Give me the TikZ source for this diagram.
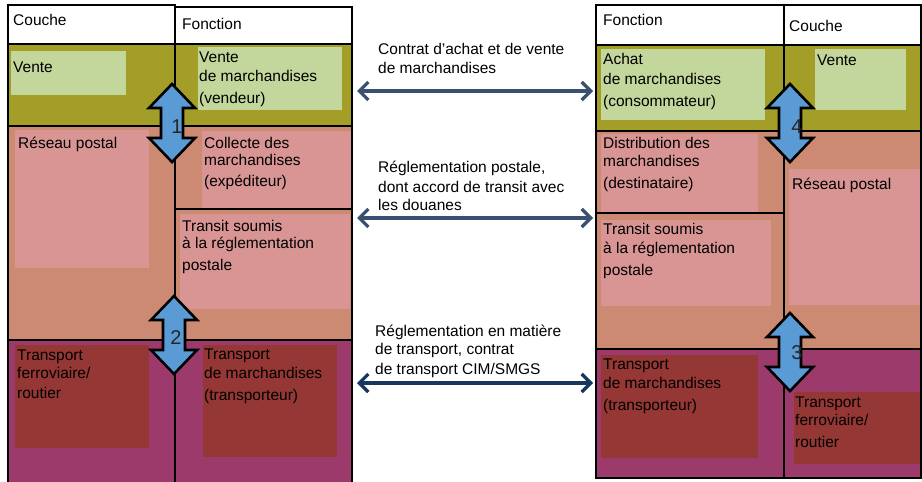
\documentclass[tikz,border=0pt]{standalone}
\usepackage{fontspec}
\setmainfont{Liberation Sans}
\usetikzlibrary{arrows.meta}
\definecolor{cOlive}{HTML}{A39E27}
\definecolor{cLGreen}{HTML}{C3D69B}
\definecolor{cSalmon}{HTML}{CD8A72}
\definecolor{cPink}{HTML}{D99594}
\definecolor{cPurple}{HTML}{9B3A6B}
\definecolor{cDRed}{HTML}{953735}
\definecolor{cBlue}{HTML}{5B9BD5}
\definecolor{cArrA}{HTML}{3B5070}
\definecolor{cArrB}{HTML}{17375E}
\newcommand\cellbox[6]{\node[cellbx, fill=#2, minimum width={(#5)-(#3)}, minimum height={(#6)-(#4)}] (#1) at ({((#3)+(#5))/2},{((#4)+(#6))/2}) {};}
\newcommand\vdarrow[3]{%
  \draw[dblarrow] (#1,{#2}) -- ({#1+23},{#2+24}) -- ({#1+11},{#2+24}) -- ({#1+11},{#3-24}) -- ({#1+23},{#3-24}) -- (#1,{#3}) -- ({#1-23},{#3-24}) -- ({#1-11},{#3-24}) -- ({#1-11},{#2+24}) -- ({#1-23},{#2+24}) -- cycle;}
\begin{document}
\begin{tikzpicture}[x=1pt,y=-1pt,
  cellbx/.style={draw=none, inner sep=0pt, outer sep=0pt},
  txt/.style={anchor=base west, inner sep=0pt, align=left, text=black,
    font=\fontsize{15.5}{20}\selectfont},
  grid/.style={line width=1.6pt, black, line cap=rect},
  dblarrow/.style={fill=cBlue, draw=black, line width=2.6pt, line join=miter},
  numlbl/.style={inner sep=0pt, font=\fontsize{20}{22}\selectfont, text=black!85},
  harrow/.style={line width=3.2pt, {Straight Barb[length=9pt,width=18pt]}-{Straight Barb[length=9pt,width=18pt]}}
]
\useasboundingbox (0,0) rectangle (922,482);
% ---------- left block bands ----------
\cellbox{LHead}{white}{8}{5}{352}{44}
\cellbox{LOlive}{cOlive}{8}{44}{352}{126}
\cellbox{LSalmon}{cSalmon}{8}{126}{352}{340}
\cellbox{LPurple}{cPurple}{8}{340}{352}{484}
% ---------- right block bands ----------
\cellbox{RHead}{white}{596}{5}{921}{45}
\cellbox{ROlive}{cOlive}{596}{45}{921}{131}
\cellbox{RSalmon}{cSalmon}{596}{131}{921}{349}
\cellbox{RPurple}{cPurple}{596}{349}{921}{478}
% ---------- inner boxes left ----------
\cellbox{bVenteL}{cLGreen}{11}{51}{126}{95}
\cellbox{bVendeur}{cLGreen}{198}{47}{342}{110}
\cellbox{bReseauL}{cPink}{15}{130}{149}{268}
\cellbox{bCollecte}{cPink}{202}{131}{351}{208}
\cellbox{bTransitL}{cPink}{180}{214}{350}{309}
\cellbox{bFerroL}{cDRed}{15}{345}{149}{448}
\cellbox{bTranspL}{cDRed}{203}{345}{337}{457}
% ---------- inner boxes right ----------
\cellbox{bAchat}{cLGreen}{601}{49}{765}{120}
\cellbox{bVenteR}{cLGreen}{815}{49}{906}{110}
\cellbox{bDistrib}{cPink}{601}{134}{758}{212}
\cellbox{bTransitR}{cPink}{601}{220}{771}{306}
\cellbox{bReseauR}{cPink}{789}{169}{921}{305}
\cellbox{bTranspR}{cDRed}{601}{355}{758}{458}
\cellbox{bFerroR}{cDRed}{794}{392}{921}{464}
% ---------- grid lines left ----------
\draw[grid] (8,5) -- (175,5);
\draw[grid] (175,7) -- (352,7);
\draw[grid] (8,44) -- (352,44);
\draw[grid] (8,126) -- (352,126);
\draw[grid] (8,340) -- (352,340);
\draw[grid] (175,209) -- (352,209);
\draw[grid] (8,5) -- (8,486);
\draw[grid] (175,5) -- (175,486);
\draw[grid] (352,7) -- (352,486);
% ---------- grid lines right ----------
\draw[grid] (596,5) -- (921,5);
\draw[grid] (596,45) -- (921,45);
\draw[grid] (596,131) -- (921,131);
\draw[grid] (596,349) -- (921,349);
\draw[grid] (596,213) -- (784,213);
\draw[grid] (596,478) -- (921,478);
\draw[grid] (596,5) -- (596,478);
\draw[grid] (784,5) -- (784,478);
\draw[grid] (921,5) -- (921,478);
% ---------- texts left (anchor = baseline of last line) ----------
\node[txt] (hCoucheL) at (13,25) {Couche};
\node[txt] (hFonctionL) at (182,29) {Fonction};
\node[txt] (tVenteL) at (13,72) {Vente};
\node[txt] (tVendeur) at (199,103.6) {Vente\\[-0.7pt]de marchandises\\[2.3pt](vendeur)};
\node[txt] (tReseauL) at (18,148) {Réseau postal};
\node[txt] (tCollecte) at (204,186.2) {Collecte des\\[-2.5pt]marchandises\\[0.7pt](expéditeur)};
\node[txt] (tTransitL) at (182,270) {Transit soumis\\[-2.5pt]à la réglementation\\[1.5pt]postale};
\node[txt] (tFerroL) at (17,398) {Transport\\[-2pt]ferroviaire/\\routier};
\node[txt] (tTranspL) at (204,400.7) {Transport\\[-0.6pt]de marchandises\\[2.3pt](transporteur)};
% ---------- texts right ----------
\node[txt] (hFonctionR) at (603,25.5) {Fonction};
\node[txt] (hCoucheR) at (789,31.5) {Couche};
\node[txt] (tAchat) at (603,106.4) {Achat\\de marchandises\\[2.4pt](consommateur)};
\node[txt] (tVenteR) at (817,65.5) {Vente};
\node[txt] (tDistrib) at (603,188.6) {Distribution des\\[-1.7pt]marchandises\\[2.3pt](destinataire)};
\node[txt] (tTransitR) at (603,275.2) {Transit soumis\\[-1pt]à la réglementation\\[1.7pt]postale};
\node[txt] (tReseauR) at (792,189.5) {Réseau postal};
\node[txt] (tTranspR) at (603,410.2) {Transport\\[-1pt]de marchandises\\[1.7pt](transporteur)};
\node[txt] (tFerroR) at (795,447) {Transport\\[-1.7pt]ferroviaire/\\[1.7pt]routier};
% ---------- middle texts ----------
\node[txt] (mContrat) at (378,73) {Contrat d’achat et de vente\\[-1pt]de marchandises};
\node[txt] (mPostale) at (378,210.3) {Réglementation postale,\\dont accord de transit avec\\[-1.7pt]les douanes};
\node[txt] (mTransport) at (375,374.6) {Réglementation en matière\\[-1.4pt]de transport, contrat\\de transport CIM/SMGS};
% ---------- vertical double arrows ----------
\vdarrow{172}{84}{162}
\vdarrow{174}{296}{374}
\vdarrow{790}{313}{391}
\vdarrow{790}{84}{162}
\node[numlbl] (n1) at (177,127) {1};
\node[numlbl] (n2) at (176,338) {2};
\node[numlbl] (n3) at (797,353) {3};
\node[numlbl] (n4) at (797,127) {4};
% ---------- horizontal arrows ----------
\coordinate (a1s) at (357,91);
\coordinate (a1e) at (593,91);
\coordinate (a2s) at (357,218);
\coordinate (a2e) at (593,218);
\coordinate (a3s) at (357,383);
\coordinate (a3e) at (593,383);
\draw[harrow, cArrA] (a1s) -- (a1e);
\draw[harrow, cArrA] (a2s) -- (a2e);
\draw[harrow, cArrB] (a3s) -- (a3e);
\end{tikzpicture}
\end{document}
